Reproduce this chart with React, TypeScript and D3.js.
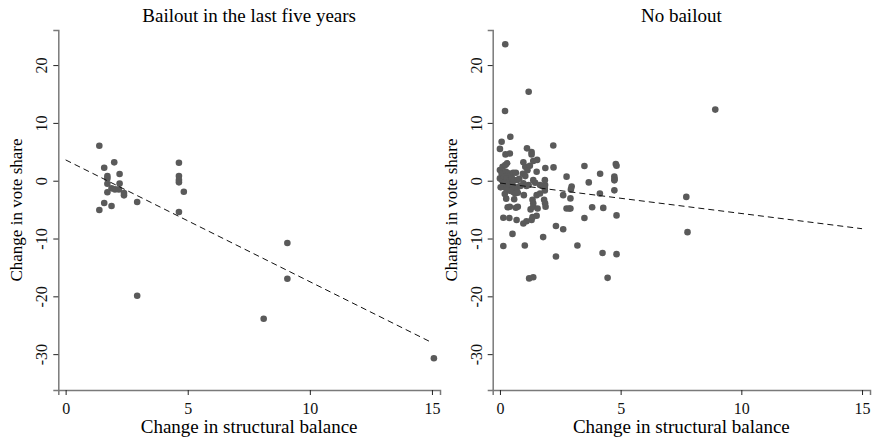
import React, { useEffect, useRef } from 'react';
import * as d3 from 'd3';

// Bailout in the last five years: [change in structural balance, change in vote share]
const bailoutPoints: [number, number][] = [
  [1.38, 6.06], [1.58, 2.25], [1.99, 3.18], [1.71, 0.81], [1.71, 0.4], [2.21, 1.16],
  [1.71, -0.52], [2.21, -0.5], [1.88, -1.32], [2.02, -1.5], [2.18, -1.5], [2.39, -2.13],
  [2.39, -2.53], [1.71, -2.0], [1.58, -3.86], [1.88, -4.38], [1.38, -5.07], [2.93, -3.69],
  [2.93, -19.9], [4.64, 3.11], [4.64, 0.81], [4.64, 0.12], [4.64, -0.28], [4.84, -1.9],
  [4.64, -5.42], [9.08, -10.78], [9.08, -16.95], [8.11, -23.88], [15.08, -30.7],
];

// No bailout
const noBailoutPoints: [number, number][] = [
  [0.22, 23.6], [1.19, 15.4], [0.21, 12.05], [8.92, 12.3], [0.43, 7.6], [0.07, 6.75],
  [0.0, 5.5], [0.23, 4.55], [0.41, 4.7], [1.12, 5.6], [1.31, 4.96], [1.31, 4.55],
  [2.21, 6.1], [2.22, 2.3], [1.88, 2.2], [3.5, 2.54], [4.15, 1.2], [4.8, 2.9],
  [4.83, 2.6], [4.74, 0.7], [4.75, 0.3], [4.74, 0.06], [2.76, 0.7], [3.68, -0.29],
  [4.74, -1.67], [4.14, -2.2], [2.97, -1.0], [2.94, -1.5], [2.62, -2.5], [2.92, -3.06],
  [3.82, -4.6], [4.28, -4.7], [2.76, -4.8], [2.87, -4.8], [2.92, -4.8], [3.5, -6.46],
  [4.83, -6.0], [2.32, -7.84], [2.62, -8.4], [1.79, -9.75], [3.21, -11.2], [4.25, -12.5],
  [4.83, -12.7], [2.32, -13.1], [1.21, -16.9], [1.38, -16.7], [4.46, -16.8], [7.72, -2.8],
  [7.77, -8.9], [0.14, -11.3], [1.03, -11.2], [0.52, -9.2], [0.14, -6.4], [0.39, -6.46],
  [0.69, -6.8], [0.97, -7.4], [1.1, -7.0], [1.31, -6.8], [1.35, -6.3], [1.52, -6.05],
  [1.27, -4.96], [1.38, -4.5], [1.56, -4.8], [0.32, -4.6], [0.41, -4.5], [0.66, -4.67],
  [0.74, -4.5], [0.26, -3.1], [0.59, -3.2], [0.99, -2.5], [1.35, -3.3], [1.38, -3.9],
  [1.83, -3.3], [1.87, -3.9], [1.89, -4.5], [1.52, -2.5], [1.66, -2.2], [1.86, -1.7],
  [1.86, -1.27], [1.87, -0.75], [1.86, 0.1], [1.19, -0.75], [1.38, 0.1], [1.46, -0.35],
  [1.66, -0.75], [1.52, 1.56], [0.97, 3.2], [1.05, 2.4], [1.14, 1.8], [1.24, 2.6],
  [1.38, 3.4], [1.54, 3.6], [0.95, 1.2], [1.05, 0.8], [0.97, -0.46], [1.1, -0.9],
  [0.0, 1.85], [0.11, 2.4], [0.22, 2.7], [0.3, 3.0], [0.07, 1.27], [0.25, 1.56],
  [0.36, 1.27], [0.44, 0.98], [0.55, 1.38], [0.66, 1.38], [0.0, 0.4], [0.08, 0.12],
  [0.17, 0.69], [0.28, 0.35], [0.41, 0.12], [0.5, 0.4], [0.58, 0.12], [0.72, 0.12],
  [0.03, -1.15], [0.14, -1.04], [0.28, -1.38], [0.39, -1.04], [0.5, -1.04], [0.63, -1.38],
  [0.72, -1.15], [0.14, -0.4], [0.36, -0.63], [0.52, -0.63], [0.55, -1.96], [0.63, -2.19],
  [0.74, -2.08], [0.41, -1.73], [0.28, -1.61], [0.8, 0.35], [0.85, -0.9], [0.2, -2.3],
];

// fitted lines at x = 0 and x = 15
const bailoutFit: [number, number][] = [[0, 3.6], [15, -28]];
const noBailoutFit: [number, number][] = [[0, -0.4], [15, -8.3]];

const xTicks = [0, 5, 10, 15];
const yTicks = [-30, -20, -10, 0, 10, 20];

const panels = [
  { title: 'Bailout in the last five years', points: bailoutPoints, fit: bailoutFit, left: 58.3, right: 440 },
  { title: 'No bailout', points: noBailoutPoints, fit: noBailoutFit, left: 492.7, right: 870 },
];

const font = '"Liberation Serif", "Times New Roman", serif';

const App = () => {
  const ref = useRef<SVGSVGElement>(null);

  useEffect(() => {
    const svg = d3.select(ref.current);
    svg.selectAll('*').remove();
    svg.attr('width', 872).attr('height', 443);

    const top = 30;
    const bottom = 390;

    panels.forEach((p) => {
      const x = d3.scaleLinear().domain([-0.3, 15.33]).range([p.left, p.right]);
      const y = d3.scaleLinear().domain([-36.2, 26.07]).range([bottom, top]);
      const g = svg.append('g');

      // axes (plain hyphen for negatives, as in the original)
      const fmt = (d: any) => String(d);
      const xAxis = g.append('g')
        .attr('transform', `translate(0,${bottom})`)
        .call(d3.axisBottom(x).tickValues(xTicks).tickSize(5).tickPadding(4).tickFormat(fmt));
      const yAxis = g.append('g')
        .attr('transform', `translate(${p.left},0)`)
        .call(d3.axisLeft(y).tickValues(yTicks).tickSize(5).tickPadding(4).tickFormat(fmt));

      [xAxis, yAxis].forEach((a) => {
        a.select('.domain').attr('stroke', '#7a7a7a').attr('stroke-width', 1.5);
        a.selectAll('.tick line').attr('stroke', '#222').attr('stroke-width', 1);
        a.selectAll('.tick text')
          .attr('fill', '#111')
          .style('font-family', font)
          .style('font-size', '16px');
      });
      xAxis.selectAll('.tick text').attr('dy', '0.95em');
      yAxis.selectAll('.tick text').each(function () {
        d3.select(this)
          .attr('x', 0)
          .attr('y', 0)
          .attr('dy', null)
          .attr('text-anchor', 'middle')
          .attr('transform', 'translate(-11,0) rotate(-90)');
      });

      // points
      g.append('g')
        .selectAll('circle')
        .data(p.points)
        .enter().append('circle')
        .attr('cx', (d) => x(d[0]))
        .attr('cy', (d) => y(d[1]))
        .attr('r', 3.3)
        .attr('fill', '#5a5a5a');

      // linear fit
      g.append('path')
        .datum(p.fit)
        .attr('d', d3.line<[number, number]>().x((d) => x(d[0])).y((d) => y(d[1])))
        .attr('fill', 'none')
        .attr('stroke', '#111')
        .attr('stroke-width', 1)
        .attr('stroke-dasharray', '6 4');

      // titles
      const cx = (p.left + p.right) / 2;
      g.append('text')
        .attr('x', cx)
        .attr('y', 22)
        .attr('text-anchor', 'middle')
        .style('font-family', font)
        .style('font-size', '19px')
        .text(p.title);

      g.append('text')
        .attr('x', cx)
        .attr('y', 433)
        .attr('text-anchor', 'middle')
        .style('font-family', font)
        .style('font-size', '19px')
        .text('Change in structural balance');

      g.append('text')
        .attr('transform', `translate(${p.left - 36},${(top + bottom) / 2}) rotate(-90)`)
        .attr('text-anchor', 'middle')
        .style('font-family', font)
        .style('font-size', '17px')
        .text('Change in vote share');
    });
  }, []);

  return <svg ref={ref} style={{ position: 'absolute', left: 0, top: 0 }} />;
};

export default App;
